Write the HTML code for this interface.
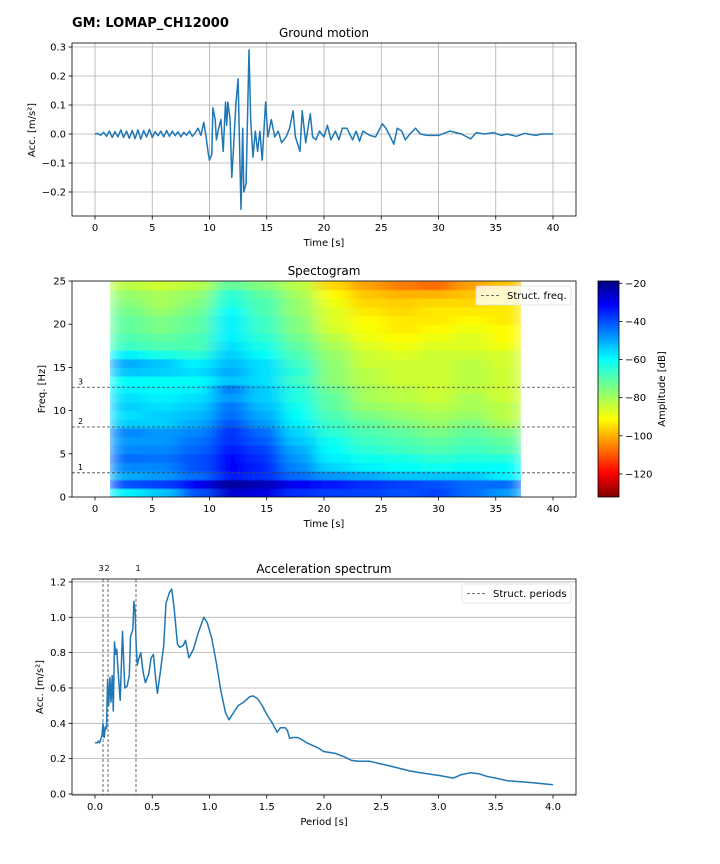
<!DOCTYPE html>
<html><head><meta charset="utf-8">
<style>
body{margin:0;background:#fff;}
svg{display:block;font-family:"DejaVu Sans","Liberation Sans",sans-serif;}
</style></head>
<body>
<svg id="fig" width="720" height="864" viewBox="0 0 720 864" xmlns="http://www.w3.org/2000/svg">
<defs>
<linearGradient id="jetgrad" x1="0" y1="1" x2="0" y2="0">
<stop offset="0" stop-color="#800000"/><stop offset="0.11" stop-color="#ff0000"/><stop offset="0.36" stop-color="#ffff00"/><stop offset="0.5" stop-color="#80ff80"/><stop offset="0.64" stop-color="#00ffff"/><stop offset="0.89" stop-color="#0000ff"/><stop offset="1" stop-color="#000080"/>
</linearGradient>
<filter id="hblur" filterUnits="userSpaceOnUse" x="110" y="281" width="411" height="216"><feGaussianBlur stdDeviation="9 0.6" edgeMode="duplicate"/></filter>
<clipPath id="specclip"><rect x="110" y="281" width="411" height="216"/></clipPath>
</defs>
<text x="72" y="27" font-size="13" font-weight="bold">GM: LOMAP_CH12000</text>
<g id="g1"></g><g id="g2"></g><g id="g3"></g>
</svg>
<script>
// ---------- data ----------
const gmTime=[0,0.25,0.5,0.75,1,1.25,1.5,1.75,2,2.25,2.5,2.75,3,3.25,3.5,3.75,4,4.25,4.5,4.75,5,5.25,5.5,5.75,6,6.25,6.5,6.75,7,7.25,7.5,7.75,8,8.25,8.5,8.75,9,9.25,9.5,9.7,9.9,10,10.2,10.3,10.5,10.6,10.8,11,11.2,11.4,11.5,11.6,11.8,11.95,12.1,12.3,12.5,12.6,12.75,12.9,13,13.2,13.45,13.6,13.8,14,14.2,14.4,14.6,14.9,15.1,15.4,15.7,16,16.3,16.7,17,17.3,17.5,17.9,18.1,18.4,18.8,19,19.3,19.6,20,20.3,20.6,21,21.3,21.6,22,22.5,22.8,23.1,23.4,24,24.5,25.1,25.4,25.8,26.1,26.4,26.8,27.1,27.5,28,28.4,29,30,31,32,32.8,33.3,34,34.8,35.5,36,36.8,37.5,38.5,39,40];
const gmAcc=[0,0.002,-0.004,0.006,-0.008,0.01,-0.012,0.008,-0.01,0.014,-0.012,0.01,-0.015,0.012,-0.016,0.014,-0.018,0.012,-0.01,0.016,-0.012,0.008,-0.006,0.01,-0.01,0.012,-0.008,0.01,-0.006,0.008,-0.01,0.006,-0.004,0.01,-0.008,0.004,0.02,-0.005,0.04,-0.01,-0.07,-0.09,-0.07,0.09,0.05,-0.02,0.02,0.05,-0.06,0.11,0.03,0.11,0.05,-0.15,-0.05,0.10,0.19,0,-0.26,0.02,-0.2,-0.17,0.29,0.05,-0.08,0.01,-0.06,0.01,-0.09,0.11,-0.01,0.05,-0.01,0.01,-0.03,-0.01,0.02,0.08,-0.01,-0.06,0.08,-0.03,0.07,-0.01,-0.02,0.01,-0.01,0.03,-0.02,0.01,-0.02,0.02,0.02,-0.02,0.01,-0.025,0.01,-0.005,-0.01,0.035,0.02,-0.01,-0.035,0.02,0.01,-0.02,0,0.02,0,-0.005,-0.005,0.01,0,-0.017,0.005,0,0.005,-0.005,0,-0.008,0.002,-0.005,0,0];
const gmXTicks=[0,5,10,15,20,25,30,35,40];
const gmYTicks=[0.3,0.2,0.1,0.0,-0.1,-0.2];

const specT0=1.3, specDT=3.0, specDF=1.0;
const specRows=[
[-60,-55,-42,-28,-30,-38,-40,-40,-42,-40,-45,-50],
[-42,-40,-32,-22,-25,-32,-35,-38,-40,-42,-45,-45],
[-52,-50,-45,-35,-38,-45,-50,-52,-55,-55,-55,-60],
[-48,-48,-42,-32,-37,-48,-57,-60,-62,-63,-62,-62],
[-45,-46,-42,-33,-38,-50,-60,-63,-64,-66,-65,-65],
[-48,-48,-44,-35,-40,-52,-62,-66,-68,-70,-68,-70],
[-50,-50,-46,-38,-43,-55,-63,-68,-70,-72,-70,-72],
[-48,-50,-48,-38,-45,-57,-66,-70,-72,-75,-72,-75],
[-56,-56,-52,-42,-50,-60,-68,-72,-75,-78,-75,-80],
[-58,-56,-54,-45,-52,-62,-70,-75,-78,-80,-78,-82],
[-56,-58,-56,-46,-54,-63,-72,-78,-80,-82,-80,-82],
[-58,-60,-58,-50,-56,-65,-72,-80,-82,-84,-80,-84],
[-60,-62,-60,-47,-56,-65,-74,-80,-82,-84,-82,-84],
[-62,-62,-62,-55,-58,-68,-77,-82,-84,-84,-82,-84],
[-55,-56,-58,-52,-58,-66,-77,-82,-84,-84,-82,-84],
[-52,-55,-60,-54,-58,-68,-77,-84,-84,-84,-82,-85],
[-60,-64,-66,-56,-62,-70,-78,-84,-86,-84,-84,-85],
[-68,-70,-70,-58,-64,-72,-80,-86,-88,-86,-86,-88],
[-70,-72,-70,-60,-66,-74,-82,-88,-90,-88,-86,-90],
[-72,-75,-72,-60,-68,-76,-85,-89,-92,-90,-88,-90],
[-72,-75,-72,-60,-68,-76,-86,-90,-92,-92,-90,-92],
[-74,-78,-74,-62,-70,-78,-86,-92,-94,-92,-92,-92],
[-76,-80,-76,-65,-70,-78,-88,-94,-95,-94,-94,-92],
[-78,-80,-78,-66,-72,-80,-90,-96,-98,-98,-96,-94],
[-82,-84,-82,-72,-76,-82,-94,-100,-104,-106,-100,-96]];
const structFreqs=[2.8,8.1,12.7];
const structLabels=["1","2","3"];
const specYTicks=[0,5,10,15,20,25];
const cbTicks=[-20,-40,-60,-80,-100,-120];

const saPeriod=[0,0.02,0.03,0.04,0.06,0.07,0.08,0.09,0.1,0.11,0.12,0.13,0.14,0.15,0.16,0.17,0.18,0.19,0.2,0.22,0.24,0.26,0.28,0.3,0.31,0.33,0.34,0.35,0.36,0.37,0.38,0.4,0.42,0.44,0.47,0.49,0.51,0.53,0.545,0.57,0.6,0.62,0.65,0.67,0.69,0.72,0.74,0.77,0.79,0.82,0.86,0.9,0.95,0.98,1.02,1.06,1.1,1.14,1.17,1.21,1.25,1.3,1.35,1.38,1.42,1.46,1.5,1.55,1.59,1.62,1.66,1.68,1.7,1.73,1.77,1.8,1.85,1.95,2.0,2.1,2.18,2.24,2.3,2.4,2.5,2.6,2.75,2.9,3.0,3.13,3.2,3.28,3.35,3.42,3.5,3.6,3.8,4.0];
const saAcc=[0.29,0.29,0.3,0.29,0.33,0.40,0.32,0.38,0.37,0.65,0.5,0.66,0.52,0.67,0.47,0.86,0.79,0.82,0.71,0.53,0.92,0.60,0.61,0.67,0.89,0.93,1.09,1.03,0.84,0.73,0.76,0.80,0.69,0.63,0.68,0.77,0.79,0.65,0.57,0.69,0.84,1.08,1.14,1.16,1.06,0.85,0.83,0.84,0.87,0.77,0.82,0.91,1.0,0.97,0.88,0.74,0.58,0.46,0.42,0.46,0.5,0.52,0.55,0.555,0.54,0.5,0.45,0.40,0.35,0.375,0.375,0.36,0.315,0.32,0.32,0.31,0.29,0.26,0.24,0.23,0.21,0.19,0.185,0.185,0.17,0.155,0.13,0.115,0.105,0.09,0.11,0.12,0.115,0.10,0.09,0.075,0.065,0.052];
const structPeriods=[0.358,0.114,0.07];
const saXTicks=[0,0.5,1.0,1.5,2.0,2.5,3.0,3.5,4.0];
const saYTicks=[0,0.2,0.4,0.6,0.8,1.0,1.2];

// ---------- helpers ----------
const NS="http://www.w3.org/2000/svg";
function mk(parent,tag,attrs,txt){const e=document.createElementNS(NS,tag);for(const k in attrs)e.setAttribute(k,attrs[k]);if(txt!==undefined)e.textContent=txt;parent.appendChild(e);return e;}
const tX=t=>95+(t-0)*(553-95)/40;
function jet(t){t=Math.max(0,Math.min(1,t));const r=Math.max(0,Math.min(1,1.5-Math.abs(4*t-3))),g=Math.max(0,Math.min(1,1.5-Math.abs(4*t-2))),b=Math.max(0,Math.min(1,1.5-Math.abs(4*t-1)));return `rgb(${Math.round(r*255)},${Math.round(g*255)},${Math.round(b*255)})`;}
const vmin=-132.1,vmax=-18.8;
const dbColor=v=>jet(1-(v-vmin)/(vmax-vmin));

// ---------- chart 1 ----------
(function(){
const g=document.getElementById('g1');
const yS=v=>134-v*290;
mk(g,'text',{x:324,y:37,'font-size':12,'text-anchor':'middle'},'Ground motion');
gmXTicks.forEach(t=>{const x=tX(t);
 const l=mk(g,'line',{x1:x,x2:x,y1:43,y2:216,stroke:'#b0b0b0','stroke-width':0.8});
 mk(g,'line',{x1:x,x2:x,y1:216,y2:219.5,stroke:'#000','stroke-width':0.8});
 const tx=mk(g,'text',{x:x,y:231,'font-size':10,'text-anchor':'middle'},String(t));});
gmYTicks.forEach(v=>{const y=yS(v);
 const l=mk(g,'line',{x1:72,x2:576,y1:y,y2:y,stroke:'#b0b0b0','stroke-width':0.8});
 mk(g,'line',{x1:68.5,x2:72,y1:y,y2:y,stroke:'#000','stroke-width':0.8});
 const tx=mk(g,'text',{x:66,y:y+3.5,'font-size':10,'text-anchor':'end'},(v<0?'\u2212':'')+Math.abs(v).toFixed(1));});
const pts=gmTime.map((t,i)=>tX(t).toFixed(1)+','+yS(gmAcc[i]).toFixed(1)).join(' ');
const pl=mk(g,'polyline',{points:pts,fill:'none',stroke:'#1f77b4','stroke-width':1.5,'stroke-linejoin':'round'});

mk(g,'rect',{x:72,y:43,width:504,height:173,fill:'none',stroke:'#000','stroke-width':0.8});
mk(g,'text',{x:324,y:246,'font-size':10,'text-anchor':'middle'},'Time [s]');
mk(g,'text',{x:35,y:130,'font-size':10,'text-anchor':'middle',transform:'rotate(-90 35 130)'},'Acc. [m/s²]');
})();

// ---------- chart 2 ----------
(function(){
const g=document.getElementById('g2');
const fY=f=>497-f*216/25;
mk(g,'text',{x:324,y:275,'font-size':12,'text-anchor':'middle'},'Spectogram');
const hm=mk(g,'g',{'clip-path':'url(#specclip)'});
const hg=mk(hm,'g',{filter:'url(#hblur)'});
specRows.forEach((row,ri)=>{row.forEach((v,ci)=>{
 const x0=tX(specT0+ci*specDT),x1=tX(specT0+(ci+1)*specDT);
 const y1=fY(ri*specDF),y0=fY((ri+1)*specDF);
 const r=mk(hg,'rect',{x:x0.toFixed(2),y:y0.toFixed(2),width:(x1-x0+0.5).toFixed(2),height:(y1-y0+0.5).toFixed(2),fill:dbColor(v)});
 
 
});});
[0,5,10,15,20,25,30,35,40].forEach(t=>{const x=tX(t);
 mk(g,'line',{x1:x,x2:x,y1:497,y2:500.5,stroke:'#000','stroke-width':0.8});
 const tx=mk(g,'text',{x:x,y:512,'font-size':10,'text-anchor':'middle'},String(t));});
specYTicks.forEach(f=>{const y=fY(f);
 mk(g,'line',{x1:68.5,x2:72,y1:y,y2:y,stroke:'#000','stroke-width':0.8});
 const tx=mk(g,'text',{x:66,y:y+3.5,'font-size':10,'text-anchor':'end'},String(f));});
structFreqs.forEach((f,i)=>{const y=fY(f);
 const l=mk(g,'line',{x1:72,x2:576,y1:y,y2:y,stroke:'#444','stroke-width':0.8,'stroke-dasharray':'3,2'});
 const t=mk(g,'text',{x:78,y:y-3,'font-size':8},structLabels[i]);});
mk(g,'rect',{x:72,y:281,width:504,height:216,fill:'none',stroke:'#000','stroke-width':0.8});
const lg=mk(g,'g',{});
mk(lg,'rect',{x:476,y:286,width:95,height:19,rx:2,fill:'rgba(255,255,255,0.8)',stroke:'#ddd','stroke-width':0.8});
mk(lg,'line',{x1:481,x2:501,y1:295.5,y2:295.5,stroke:'#444','stroke-width':0.8,'stroke-dasharray':'3,2'});
mk(lg,'text',{x:507,y:299,'font-size':10},'Struct. freq.');
mk(g,'text',{x:324,y:527,'font-size':10,'text-anchor':'middle'},'Time [s]');
mk(g,'text',{x:45,y:389,'font-size':10,'text-anchor':'middle',transform:'rotate(-90 45 389)'},'Freq. [Hz]');
const cb=mk(g,'rect',{x:598,y:281,width:21,height:216,fill:'url(#jetgrad)',stroke:'#000','stroke-width':0.8});
cbTicks.forEach(v=>{const y=497-(v-vmin)/(vmax-vmin)*216;
 mk(g,'line',{x1:619,x2:622.5,y1:y,y2:y,stroke:'#000','stroke-width':0.8});
 const tx=mk(g,'text',{x:625,y:y+3.5,'font-size':10},'\u2212'+Math.abs(v));});
mk(g,'text',{x:665,y:389,'font-size':10,'text-anchor':'middle',transform:'rotate(-90 665 389)'},'Amplitude [dB]');
})();

// ---------- chart 3 ----------
(function(){
const g=document.getElementById('g3');
const pX=p=>95+p*(553-95)/4;
const aY=a=>794-a*176.7;
mk(g,'text',{x:324,y:573,'font-size':12,'text-anchor':'middle'},'Acceleration spectrum');
saYTicks.forEach(v=>{const y=aY(v);
 const l=mk(g,'line',{x1:72,x2:576,y1:y,y2:y,stroke:'#b0b0b0','stroke-width':0.8});
 mk(g,'line',{x1:68.5,x2:72,y1:y,y2:y,stroke:'#000','stroke-width':0.8});
 const tx=mk(g,'text',{x:66,y:y+3.5,'font-size':10,'text-anchor':'end'},v.toFixed(1));});
saXTicks.forEach(p=>{const x=pX(p);
 mk(g,'line',{x1:x,x2:x,y1:795,y2:798.5,stroke:'#000','stroke-width':0.8});
 const tx=mk(g,'text',{x:x,y:810,'font-size':10,'text-anchor':'middle'},p.toFixed(1));});
structPeriods.forEach((p,i)=>{const x=pX(p);
 const l=mk(g,'line',{x1:x,x2:x,y1:579,y2:795,stroke:'#444','stroke-width':0.8,'stroke-dasharray':'3,2'});
 const t=mk(g,'text',{x:x+ (i==0?2:(i==1?-1:-2)),y:571,'font-size':8,'text-anchor':'middle'},structLabels[i]);});
const pts=saPeriod.map((p,i)=>pX(p).toFixed(1)+','+aY(saAcc[i]).toFixed(1)).join(' ');
const pl=mk(g,'polyline',{points:pts,fill:'none',stroke:'#1f77b4','stroke-width':1.5,'stroke-linejoin':'round'});

mk(g,'rect',{x:72,y:579,width:504,height:216,fill:'none',stroke:'#000','stroke-width':0.8});
const lg=mk(g,'g',{});
mk(lg,'rect',{x:462,y:584,width:109,height:19,rx:2,fill:'rgba(255,255,255,0.8)',stroke:'#ddd','stroke-width':0.8});
mk(lg,'line',{x1:467,x2:487,y1:593.5,y2:593.5,stroke:'#444','stroke-width':0.8,'stroke-dasharray':'3,2'});
mk(lg,'text',{x:493,y:597,'font-size':10},'Struct. periods');
mk(g,'text',{x:324,y:825,'font-size':10,'text-anchor':'middle'},'Period [s]');
mk(g,'text',{x:43,y:687,'font-size':10,'text-anchor':'middle',transform:'rotate(-90 43 687)'},'Acc. [m/s²]');
})();
</script>
</body></html>
